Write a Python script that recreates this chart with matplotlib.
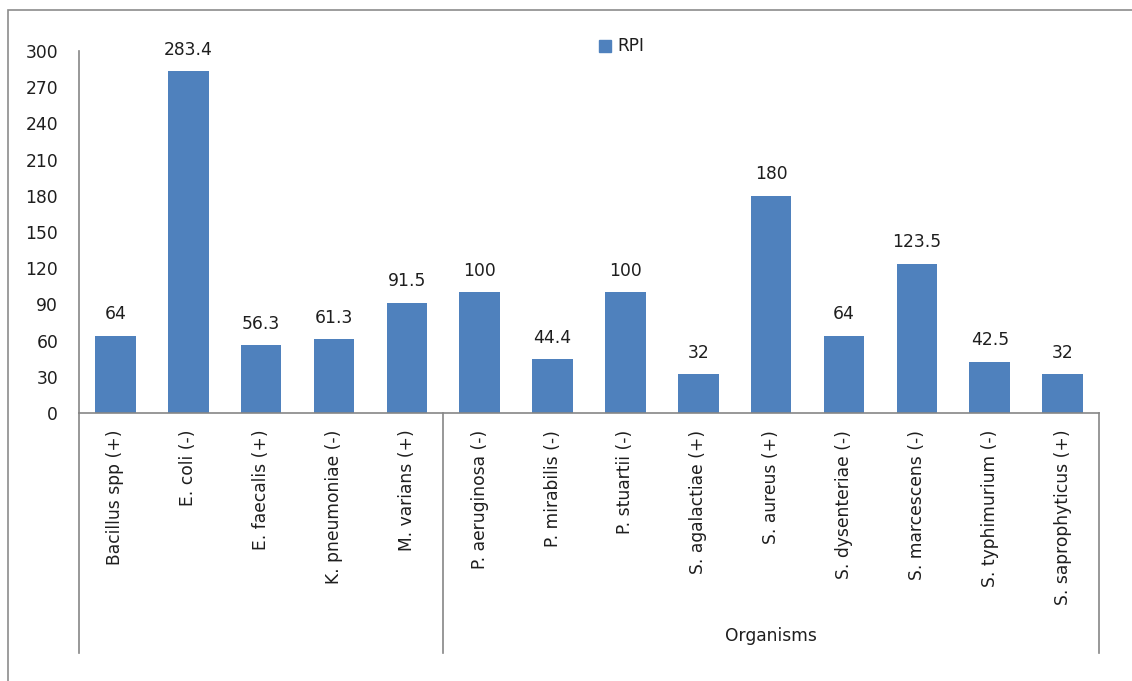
import matplotlib
matplotlib.use("Agg")
import matplotlib.pyplot as plt
from matplotlib.patches import Rectangle
from matplotlib.lines import Line2D

organisms = [
    "Bacillus spp (+)", "E. coli (-)", "E. faecalis (+)", "K. pneumoniae (-)",
    "M. varians (+)", "P. aeruginosa (-)", "P. mirabilis (-)", "P. stuartii (-)",
    "S. agalactiae (+)", "S. aureus (+)", "S. dysenteriae (-)", "S. marcescens (-)",
    "S. typhimurium (-)", "S. saprophyticus (+)",
]
rpi = [64, 283.4, 56.3, 61.3, 91.5, 100, 44.4, 100, 32, 180, 64, 123.5, 42.5, 32]
rpi_labels = ["64", "283.4", "56.3", "61.3", "91.5", "100", "44.4", "100",
              "32", "180", "64", "123.5", "42.5", "32"]
y_ticks = [0, 30, 60, 90, 120, 150, 180, 210, 240, 270, 300]
group_name = "Organisms"
group_start = 5  # first category of the labelled group

BAR = "#4F81BD"
AXIS = "#868686"
TEXT = "#1E1E1E"
FS = 12.3

plt.rcParams["font.family"] = ["DejaVu Sans"]

fig = plt.figure(figsize=(11.32, 6.81), dpi=100)
W, H = 1132, 681

# chart frame
fig.patches.append(Rectangle((8 / W, -0.1), 1.2, (681 - 10) / H + 0.1,
                             transform=fig.transFigure, fill=False,
                             edgecolor="#8C8C8C", linewidth=1.2))

ax = fig.add_axes([79 / W, (H - 413) / H, (1099 - 79) / W, (413 - 51) / H])
n = len(organisms)
x = list(range(n))
ax.bar(x, rpi, width=0.556, color=BAR, zorder=2)
ax.set_xlim(-0.5, n - 0.5)
ax.set_ylim(0, 300)
ax.set_yticks(y_ticks)
ax.set_yticklabels([str(v) for v in y_ticks], fontsize=FS, color=TEXT)
ax.tick_params(axis="y", length=0, pad=15)
ax.set_xticks(x)
ax.set_xticklabels(organisms, rotation=90, fontsize=FS, color=TEXT, va="top")
ax.tick_params(axis="x", length=0, pad=12)

for s in ("top", "right"):
    ax.spines[s].set_visible(False)
for s in ("left", "bottom"):
    ax.spines[s].set_color(AXIS)
    ax.spines[s].set_linewidth(1.2)

for xi, v, lab in zip(x, rpi, rpi_labels):
    ax.annotate(lab, (xi, v), xytext=(0, 9), textcoords="offset points",
                ha="center", va="bottom", fontsize=FS, color=TEXT)

# multi-level category divider lines
drop = (653 - 413) / (413 - 51) * 300
for xv in (-0.5, group_start - 0.5, n - 0.5):
    ax.add_line(Line2D([xv, xv], [0, -drop], color=AXIS, linewidth=1.2,
                       clip_on=False))
ax.text((group_start - 0.5 + n - 0.5) / 2, -(636 - 413) / (413 - 51) * 300,
        group_name, ha="center", va="center", fontsize=FS, color=TEXT)

# legend
fig.patches.append(Rectangle((599 / W, (H - 52) / H), 12 / W, 12 / H,
                             transform=fig.transFigure, color=BAR))
fig.text(617 / W, (H - 46) / H, "RPI", ha="left", va="center",
         fontsize=FS, color=TEXT)

fig.savefig("out.png", dpi=100, facecolor="white")
